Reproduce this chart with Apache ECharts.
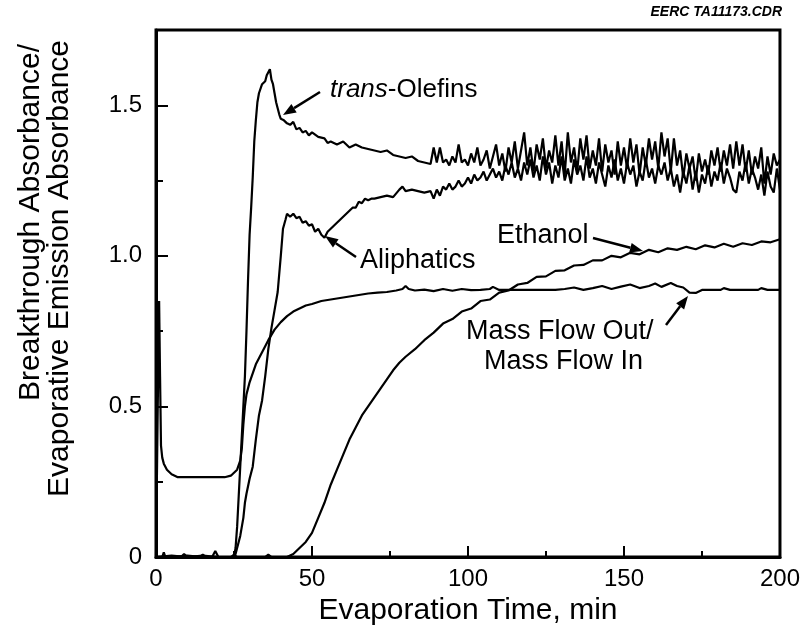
<!DOCTYPE html>
<html>
<head>
<meta charset="utf-8">
<script src="https://cdn.jsdelivr.net/npm/echarts@6/dist/echarts.min.js"></script>
<style>
  html, body { margin: 0; padding: 0; background: #fff; }
  #chart { width: 803px; height: 635px; }
</style>
</head>
<body>
<div id="chart"></div>
<script>
// axis ticks
const xTicks = [0, 50, 100, 150, 200];
const yTicks = [0, 0.5, 1.0, 1.5];

// trans-Olefins, up to 89 min
const olefEarlyT = [0, 5, 10, 15, 20, 25, 25.5, 26, 26.5, 27, 27.5, 28, 28.5, 29, 29.5,
  30, 30.5, 31, 31.5, 32, 32.5, 33, 34, 35, 35.5, 36, 36.5, 37, 37.5, 38, 38.5, 39, 39.5, 40, 41,
  42, 43, 44, 45, 46, 47, 48, 49, 50, 52, 54, 55, 56, 58, 60, 62, 64, 66, 68, 70,
  72, 74, 76, 78, 80, 82, 84, 86, 88, 89];
const olefEarlyY = [0, 0.005, 0, 0.005, 0, 0, 0.03, 0.1, 0.2, 0.3, 0.4, 0.5, 0.6, 0.75, 0.92,
  1.07, 1.16, 1.26, 1.38, 1.45, 1.51, 1.54, 1.57, 1.58, 1.6, 1.595, 1.62, 1.585, 1.57, 1.54, 1.51, 1.49, 1.47, 1.455, 1.45,
  1.44, 1.435, 1.445, 1.42, 1.425, 1.41, 1.415, 1.4, 1.41, 1.395, 1.39, 1.375, 1.38, 1.37, 1.38, 1.36, 1.37, 1.36, 1.355, 1.35,
  1.345, 1.35, 1.335, 1.33, 1.325, 1.33, 1.315, 1.31, 1.305, 1.36];

// Aliphatics, up to 89 min
const aliEarlyT = [0, 5, 10, 15, 20, 25, 25.5, 26, 27, 28, 28.5, 29, 30, 31, 32, 33, 34, 35, 36, 37,
  38, 39, 40, 40.7, 41.5, 42, 43, 44, 45, 46, 47, 48, 49, 50, 51, 52, 53, 54, 55, 56,
  57, 58, 59, 60, 61, 62, 63, 64, 65, 66, 67, 68, 69, 70, 72, 74, 76, 78, 79, 80, 82, 84, 86, 88, 89];
const aliEarlyY = [0, 0, 0.005, 0, 0, 0, 0.01, 0.03, 0.07, 0.13, 0.18, 0.21, 0.26, 0.3, 0.39, 0.47, 0.52, 0.6, 0.69, 0.76,
  0.82, 0.88, 1.0, 1.09, 1.12, 1.14, 1.13, 1.14, 1.125, 1.13, 1.11, 1.115, 1.1, 1.105, 1.08, 1.09, 1.07, 1.06, 1.08, 1.09,
  1.1, 1.11, 1.12, 1.13, 1.14, 1.15, 1.16, 1.16, 1.18, 1.175, 1.19, 1.185, 1.19, 1.19, 1.195, 1.2, 1.195, 1.22, 1.23, 1.215, 1.22, 1.215, 1.21, 1.215, 1.19];

// noisy part, 90 to 200 min
const lateT = [90, 91, 92, 93, 94, 95, 96, 97, 98, 99, 100, 101, 102, 103, 104, 105, 106, 107, 108, 109, 110,
  111, 112, 113, 114, 115, 116, 117, 118, 119, 120, 121, 122, 123, 124, 125, 126, 127, 128, 129, 130,
  131, 132, 133, 134, 135, 136, 137, 138, 139, 140, 141, 142, 143, 144, 145, 146, 147, 148, 149, 150,
  151, 152, 153, 154, 155, 156, 157, 158, 159, 160, 161, 162, 163, 164, 165, 166, 167, 168, 169, 170,
  171, 172, 173, 174, 175, 176, 177, 178, 179, 180, 181, 182, 183, 184, 185, 186, 187, 188, 189, 190,
  191, 192, 193, 194, 195, 196, 197, 198, 199, 200];
const olefLateY = [1.31, 1.36, 1.31, 1.32, 1.30, 1.33, 1.31, 1.37, 1.31, 1.32, 1.30,
  1.34, 1.31, 1.36, 1.30, 1.32, 1.35, 1.29, 1.33, 1.37, 1.30,
  1.34, 1.28, 1.36, 1.31, 1.38, 1.29, 1.35, 1.41, 1.30, 1.36,
  1.28, 1.37, 1.32, 1.39, 1.29, 1.35, 1.31, 1.40, 1.30, 1.38,
  1.27, 1.41, 1.31, 1.36, 1.28, 1.39, 1.32, 1.40, 1.29, 1.35,
  1.30, 1.39, 1.28, 1.37, 1.31, 1.35, 1.27, 1.38, 1.30, 1.36,
  1.29, 1.39, 1.31, 1.37, 1.27, 1.36, 1.30, 1.39, 1.32, 1.38,
  1.29, 1.41, 1.33, 1.39, 1.28, 1.39, 1.30, 1.35, 1.26, 1.34,
  1.29, 1.33, 1.25, 1.34, 1.28, 1.32, 1.27, 1.35, 1.30, 1.36,
  1.28, 1.35, 1.30, 1.37, 1.29, 1.38, 1.30, 1.37, 1.28, 1.35,
  1.27, 1.33, 1.29, 1.36, 1.24, 1.33, 1.27, 1.34, 1.30, 1.32];
const aliLateY = [1.22, 1.20, 1.23, 1.22, 1.24, 1.22, 1.23, 1.25, 1.23, 1.24, 1.26,
  1.24, 1.27, 1.25, 1.26, 1.28, 1.25, 1.27, 1.29, 1.26, 1.28,
  1.25, 1.30, 1.27, 1.31, 1.26, 1.29, 1.25, 1.31, 1.27, 1.32,
  1.26, 1.30, 1.25, 1.33, 1.27, 1.31, 1.24, 1.30, 1.26, 1.33,
  1.25, 1.29, 1.24, 1.32, 1.27, 1.30, 1.25, 1.33, 1.26, 1.29,
  1.24, 1.31, 1.27, 1.23, 1.30, 1.26, 1.32, 1.25, 1.29, 1.24,
  1.31, 1.27, 1.30, 1.23, 1.28, 1.25, 1.32, 1.26, 1.29, 1.24,
  1.30, 1.27, 1.31, 1.25, 1.29, 1.23, 1.27, 1.21, 1.28, 1.24,
  1.30, 1.22, 1.28, 1.21, 1.27, 1.24, 1.30, 1.23, 1.28, 1.25,
  1.31, 1.24, 1.29, 1.26, 1.22, 1.21, 1.28, 1.25, 1.31, 1.24,
  1.29, 1.26, 1.22, 1.27, 1.20, 1.28, 1.23, 1.21, 1.29, 1.22];

// Ethanol
const ethT = [0, 2, 2.5, 3, 8, 9, 10, 14, 15, 16, 18, 19, 20, 24, 25, 26, 35, 36, 37, 42,
  44, 45, 46, 48, 50, 52, 54, 56, 58, 60, 62, 64, 66, 68, 70, 72, 74, 76, 78, 80,
  83, 86, 89, 92, 95, 98, 101, 104, 107, 110, 113, 116, 119, 122, 125, 128, 131, 134, 137, 140,
  143, 146, 149, 152, 155, 158, 161, 164, 167, 170, 173, 176, 179, 182, 185, 188, 191, 194, 197, 200];
const ethY = [0, 0, 0.015, 0, 0, 0.01, 0, 0, 0.008, 0, 0, 0.02, 0, 0, 0.008, 0, 0, 0.008, 0, 0,
  0.01, 0.02, 0.03, 0.05, 0.08, 0.13, 0.18, 0.24, 0.29, 0.34, 0.39, 0.43, 0.47, 0.5, 0.53, 0.56, 0.59, 0.62, 0.645, 0.665,
  0.69, 0.72, 0.745, 0.775, 0.79, 0.815, 0.825, 0.85, 0.855, 0.878, 0.885, 0.905, 0.91, 0.93, 0.932, 0.95, 0.952, 0.968, 0.97, 0.985,
  0.985, 1.0, 0.995, 1.01, 1.005, 1.02, 1.012, 1.025, 1.02, 1.03, 1.022, 1.035, 1.028, 1.04, 1.03, 1.042, 1.036, 1.048, 1.045, 1.055];

// Mass Flow Out / Mass Flow In
const massT = [0, 0.5, 1.0, 1.3, 1.6, 2, 2.5, 3.5, 5, 7, 10, 14, 18, 22, 24, 25, 26, 27, 27.5, 28,
  28.5, 29, 30, 31, 32, 33, 34, 35, 36, 38, 40, 42, 44, 46, 48, 50, 53, 56, 59, 62,
  65, 68, 71, 74, 77, 79, 80, 81, 83, 86, 89, 92, 95, 98, 101, 104, 107, 108, 110, 113,
  116, 119, 122, 125, 128, 131, 134, 137, 140, 143, 146, 149, 152, 155, 158, 160, 162, 165, 167, 169,
  171, 173, 175, 178, 181, 182, 184, 187, 190, 193, 194, 196, 200];
const massY = [0, 0.45, 0.85, 0.6, 0.37, 0.33, 0.31, 0.29, 0.275, 0.265, 0.265, 0.265, 0.265, 0.265, 0.27, 0.28, 0.29, 0.32, 0.36, 0.44,
  0.5, 0.54, 0.58, 0.61, 0.64, 0.66, 0.68, 0.7, 0.72, 0.755, 0.78, 0.8, 0.815, 0.825, 0.835, 0.84, 0.85, 0.855, 0.86, 0.865,
  0.87, 0.875, 0.878, 0.88, 0.885, 0.89, 0.9, 0.89, 0.885, 0.888, 0.883, 0.89, 0.884, 0.89, 0.886, 0.887, 0.89, 0.897, 0.887, 0.887,
  0.887, 0.887, 0.887, 0.887, 0.887, 0.89, 0.895, 0.887, 0.893, 0.9, 0.89, 0.898, 0.905, 0.893, 0.9, 0.908, 0.897, 0.91, 0.9, 0.895,
  0.878, 0.877, 0.887, 0.887, 0.887, 0.893, 0.887, 0.887, 0.887, 0.887, 0.893, 0.887, 0.887];

const FONT = '"Liberation Sans", Arial, Helvetica, sans-serif';

const pairs = (t, y) => t.map((v, i) => [v, y[i]]);

// small arrow built from a line and a filled head
function arrow(x1, y1, x2, y2) {
  const a = Math.atan2(y2 - y1, x2 - x1);
  const len = 13, half = 5;
  const bx = x2 - len * Math.cos(a), by = y2 - len * Math.sin(a);
  return [
    { type: 'line', shape: { x1: x1, y1: y1, x2: bx, y2: by }, style: { stroke: '#000', lineWidth: 2.5 } },
    {
      type: 'polygon',
      shape: { points: [[x2, y2],
        [bx + half * Math.sin(a), by - half * Math.cos(a)],
        [bx - half * Math.sin(a), by + half * Math.cos(a)]] },
      style: { fill: '#000' }
    }
  ];
}

function label(text, x, y, size, align, rotation) {
  return {
    type: 'text', x: x, y: y, rotation: rotation || 0,
    style: { text: text, font: size + 'px ' + FONT, fill: '#000',
      align: align || 'left', verticalAlign: 'middle',
      textAlign: align || 'left', textVerticalAlign: 'middle' }
  };
}

const chart = echarts.init(document.getElementById('chart'), null, { renderer: 'canvas' });

const lineStyle = { color: '#000', width: 2.2 };
const mkSeries = (name, data) => ({
  name: name, type: 'line', data: data, showSymbol: false, symbol: 'none',
  lineStyle: lineStyle, itemStyle: { color: '#000' }, animation: false
});

const option = {
  animation: false,
  backgroundColor: '#fff',
  textStyle: { fontFamily: FONT },
  grid: { left: 156, right: 23, top: 30, bottom: 78, show: true, borderColor: '#000', borderWidth: 3 },
  xAxis: {
    type: 'value', min: xTicks[0], max: xTicks[xTicks.length - 1], interval: 50,
    axisLine: { lineStyle: { color: '#000', width: 3 } },
    axisTick: { inside: true, length: 11, lineStyle: { color: '#000', width: 2 } },
    minorTick: { show: true, splitNumber: 2, length: 6, lineStyle: { color: '#000', width: 2 } },
    splitLine: { show: false },
    axisLabel: { color: '#000', fontSize: 24, margin: 10, fontFamily: FONT },
    name: 'Evaporation Time, min', nameLocation: 'middle', nameGap: 37,
    nameTextStyle: { color: '#000', fontSize: 30, fontFamily: FONT }
  },
  yAxis: {
    type: 'value', min: 0, max: 1.75, interval: 0.5,
    axisLine: { lineStyle: { color: '#000', width: 3 } },
    axisTick: { inside: true, length: 12, lineStyle: { color: '#000', width: 2 } },
    minorTick: { show: true, splitNumber: 2, length: 7, lineStyle: { color: '#000', width: 2 } },
    splitLine: { show: false },
    axisLabel: {
      color: '#000', fontSize: 24, margin: 14, fontFamily: FONT,
      formatter: v => (yTicks.indexOf(v) < 0 ? '' : (v === 0 ? '0' : v.toFixed(1)))
    }
  },
  series: [
    mkSeries('trans-Olefins', pairs(olefEarlyT.concat(lateT), olefEarlyY.concat(olefLateY))),
    mkSeries('Aliphatics', pairs(aliEarlyT.concat(lateT), aliEarlyY.concat(aliLateY))),
    mkSeries('Ethanol', pairs(ethT, ethY)),
    mkSeries('Mass Flow Out/Mass Flow In', pairs(massT, massY))
  ],
  graphic: [
    // y axis title, two rotated lines
    label('Breakthrough Absorbance/', 31, 44, 30, 'right', Math.PI / 2),
    label('Evaporative Emission Absorbance', 60, 40, 30, 'right', Math.PI / 2),
    // file tag
    {
      type: 'text', x: 782, y: 12,
      style: { text: 'EERC TA11173.CDR', font: 'italic bold 14px ' + FONT, fill: '#000',
        align: 'right', verticalAlign: 'middle', textAlign: 'right', textVerticalAlign: 'middle' }
    },
    // series annotations
    {
      type: 'text', x: 330, y: 90,
      style: {
        text: '{i|trans}-Olefins', font: '26px ' + FONT, fill: '#000',
        align: 'left', verticalAlign: 'middle', textAlign: 'left', textVerticalAlign: 'middle',
        rich: { i: { fontStyle: 'italic', fontSize: 26, fontFamily: FONT, fill: '#000', color: '#000' } }
      }
    },
    label('Aliphatics', 360, 261, 27),
    label('Ethanol', 497, 236, 27),
    label('Mass Flow Out/', 466, 332, 27),
    label('Mass Flow In', 484, 362, 27),
    ...arrow(320, 92, 283, 115),
    ...arrow(356, 257, 325, 236),
    ...arrow(593, 238, 643, 251),
    ...arrow(666, 325, 688, 296)
  ]
};

chart.setOption(option);
</script>
</body>
</html>
